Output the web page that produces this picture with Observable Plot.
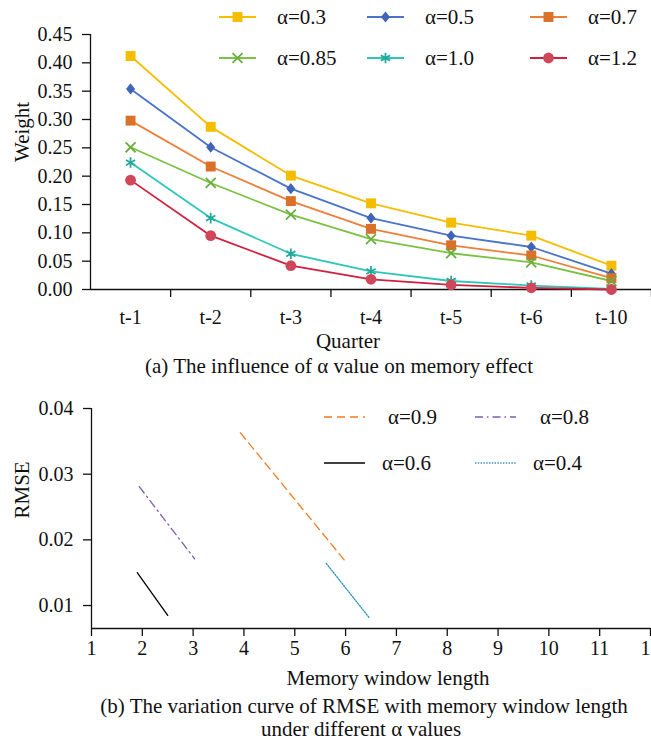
<!DOCTYPE html>
<html>
<head>
<meta charset="utf-8">
<script src="https://cdn.jsdelivr.net/npm/d3@7"></script>
<script src="https://cdn.jsdelivr.net/npm/@observablehq/plot@0.6"></script>
<style>
  html, body { margin: 0; padding: 0; background: #fff; overflow: hidden; }
  #wrap { position: relative; width: 651px; height: 743px; font-family: "Liberation Serif", "Times New Roman", serif; color: #111; }
  .cap { position: absolute; font-size: 21px; white-space: nowrap; transform: translate(-50%, -50%); }
  .leg { position: absolute; font-size: 21px; white-space: nowrap; display: flex; align-items: center; }
</style>
</head>
<body>
<div id="wrap"></div>
<script>
// ---------- Data: chart (a) ----------
const quarters = ["t-1", "t-2", "t-3", "t-4", "t-5", "t-6", "t-10"];
const alphaA = ["α=0.3", "α=0.5", "α=0.7", "α=0.85", "α=1.0", "α=1.2"];
const w03  = [0.412, 0.287, 0.201, 0.152, 0.118, 0.095, 0.042];
const w05  = [0.354, 0.251, 0.178, 0.126, 0.095, 0.075, 0.028];
const w07  = [0.298, 0.217, 0.156, 0.107, 0.078, 0.060, 0.020];
const w085 = [0.251, 0.188, 0.132, 0.089, 0.064, 0.048, 0.015];
const w10  = [0.224, 0.126, 0.063, 0.032, 0.015, 0.007, 0.001];
const w12  = [0.193, 0.095, 0.042, 0.018, 0.008, 0.003, 0.000];
const weightTicks = [0, 0.05, 0.10, 0.15, 0.20, 0.25, 0.30, 0.35, 0.40, 0.45];

// ---------- Data: chart (b) ----------
const alphaB = ["α=0.9", "α=0.8", "α=0.6", "α=0.4"];
const winX09 = [3.93, 6.03];  const rmse09 = [0.0363, 0.0164];
const winX08 = [1.94, 3.03];  const rmse08 = [0.0281, 0.0171];
const winX06 = [1.90, 2.50];  const rmse06 = [0.0150, 0.0085];
const winX04 = [5.62, 6.47];  const rmse04 = [0.0164, 0.0081];
const rmseTicks = [0.01, 0.02, 0.03, 0.04];
const windowTicks = [1, 2, 3, 4, 5, 6, 7, 8, 9, 10, 11, 12];

// ---------- Styles ----------
const FONT = '"Liberation Serif", "Times New Roman", serif';
// custom, less elongated diamond
const diamondSym = {
  draw(ctx, size) {
    const k = Math.sqrt(size / 1.64), w = 0.82 * k;
    ctx.moveTo(0, -k); ctx.lineTo(w, 0); ctx.lineTo(0, k); ctx.lineTo(-w, 0); ctx.closePath();
  }
};
const stylesA = [
  {line: "#F5BD00", fill: "#F5BD00", symbol: d3.symbolSquare,   r: 5.6, stroke: false},
  {line: "#4A74C9", fill: "#3F64B8", symbol: diamondSym,        r: 4.0, stroke: false},
  {line: "#EE7F3A", fill: "#D9712B", symbol: d3.symbolSquare,   r: 5.6, stroke: false},
  {line: "#7CC143", fill: "#6AAE3E", symbol: d3.symbolTimes,    r: 4.6, stroke: true},
  {line: "#2EC7B7", fill: "#22A99C", symbol: d3.symbolAsterisk, r: 5.0, stroke: true},
  {line: "#D11F3F", fill: "#D0475A", symbol: d3.symbolCircle,   r: 5.4, stroke: false}
];
const seriesA = [w03, w05, w07, w085, w10, w12];
const stylesB = [
  {color: "#F47B20", dash: "8,5", width: 1.3},
  {color: "#7B5EAF", dash: "8,4,1.5,4", width: 1.3},
  {color: "#000000", dash: null, width: 1.3},
  {color: "#2E94B9", dash: "1.4,1.4", width: 1.3}
];
const seriesB = [[winX09, rmse09], [winX08, rmse08], [winX06, rmse06], [winX04, rmse04]];

const wrap = document.getElementById("wrap");

// ---------- Chart (a) ----------
const rowsA = [];
seriesA.forEach((vals, s) => vals.forEach((v, i) => rowsA.push({s, i, q: quarters[i], v})));
const idx = quarters.map((_, i) => i);
const boundaries = idx.map(i => i + 0.5);

const marksA = [];
seriesA.forEach((vals, s) => {
  const st = stylesA[s];
  const data = rowsA.filter(d => d.s === s);
  marksA.push(Plot.line(data, {x: "i", y: "v", stroke: st.line, strokeWidth: 1.8}));
});
seriesA.forEach((vals, s) => {
  const st = stylesA[s];
  const data = rowsA.filter(d => d.s === s);
  marksA.push(Plot.dot(data, st.stroke
    ? {x: "i", y: "v", symbol: st.symbol, r: st.r, stroke: st.fill, strokeWidth: 1.8, fill: "none"}
    : {x: "i", y: "v", symbol: st.symbol, r: st.r, fill: st.fill, stroke: "none"}));
});

const chartA = Plot.plot({
  width: 651,
  height: 348,
  marginTop: 34,
  marginBottom: 59,
  marginLeft: 90,
  marginRight: 0,
  style: {fontFamily: FONT, fontSize: "20px", color: "#111", background: "transparent", overflow: "visible"},
  x: {type: "linear", domain: [-0.5, quarters.length - 0.5]},
  y: {domain: [0, 0.45]},
  marks: [
    Plot.axisY(weightTicks, {tickSize: 8, tickPadding: 10, tickFormat: d3.format(".2f"), label: null, strokeWidth: 1.3, fontSize: 20}),
    Plot.axisX(boundaries, {tickSize: 8, tickFormat: () => "", label: null, strokeWidth: 1.3}),
    Plot.axisX(idx, {tickSize: 0, tickPadding: 20, tickFormat: i => quarters[i], label: null, fontSize: 20}),
    Plot.ruleY([0], {strokeWidth: 1.3}),
    Plot.ruleX([-0.5], {strokeWidth: 1.3}),
    ...marksA,
    Plot.text(["Quarter"], {frameAnchor: "bottom", dy: 58, fontSize: 21, dx: -23}),
    Plot.text(["Weight"], {frameAnchor: "left", dx: -68, rotate: -90, fontSize: 21})
  ]
});
chartA.style.position = "absolute";
chartA.style.left = "0px";
chartA.style.top = "0px";
wrap.appendChild(chartA);

// legend (a)
function legendItem(parent, x, y, label, drawSwatch, textGap) {
  const div = document.createElement("div");
  div.className = "leg";
  div.style.left = x + "px";
  div.style.top = (y - 12) + "px";
  div.style.height = "24px";
  const svg = d3.create("svg").attr("width", 40).attr("height", 24).style("overflow", "visible");
  drawSwatch(svg);
  div.appendChild(svg.node());
  const span = document.createElement("span");
  span.textContent = label;
  span.style.marginLeft = textGap + "px";
  div.appendChild(span);
  parent.appendChild(div);
}
const legColsA = [219, 367, 530];
const legRowsA = [17, 58];
alphaA.forEach((lab, k) => {
  const st = stylesA[k];
  const col = k % 3, row = Math.floor(k / 3);
  legendItem(wrap, legColsA[col], legRowsA[row], lab, svg => {
    svg.append("line").attr("x1", 0).attr("x2", 37).attr("y1", 12).attr("y2", 12)
      .attr("stroke", st.line).attr("stroke-width", 1.8);
    const p = d3.symbol(st.symbol, Math.PI * st.r * st.r)();
    const g = svg.append("path").attr("d", p).attr("transform", "translate(18.5,12)");
    if (st.stroke) g.attr("fill", "none").attr("stroke", st.fill).attr("stroke-width", 1.8);
    else g.attr("fill", st.fill);
  }, 18);
});

// caption (a)
const capA = document.createElement("div");
capA.className = "cap";
capA.style.left = "339px"; capA.style.top = "366px";
capA.textContent = "(a) The influence of α value on memory effect";
wrap.appendChild(capA);

// ---------- Chart (b) ----------
const rowsB = [];
seriesB.forEach(([xs, ys], s) => xs.forEach((x, i) => rowsB.push({s, x, y: ys[i]})));

const chartB = Plot.plot({
  width: 651,
  height: 318,
  marginTop: 28,
  marginBottom: 70,
  marginLeft: 91,
  marginRight: 1,
  style: {fontFamily: FONT, fontSize: "20px", color: "#111", background: "transparent", overflow: "visible"},
  x: {domain: [1, 12]},
  y: {domain: [0.0065, 0.04]},
  marks: [
    Plot.axisY(rmseTicks, {tickSize: 8, tickPadding: 10, tickFormat: d3.format(".2f"), label: null, strokeWidth: 1.3, fontSize: 20}),
    Plot.axisX(windowTicks, {tickSize: 8, tickPadding: 4, label: null, strokeWidth: 1.3, fontSize: 20}),
    Plot.ruleY([0.0065], {strokeWidth: 1.3}),
    Plot.ruleX([1], {strokeWidth: 1.3}),
    ...seriesB.map((_, s) => Plot.line(rowsB.filter(d => d.s === s), {
      x: "x", y: "y", stroke: stylesB[s].color, strokeWidth: stylesB[s].width,
      strokeDasharray: stylesB[s].dash || undefined
    })),
    Plot.text(["Memory window length"], {frameAnchor: "bottom", dy: 56, dx: 17, fontSize: 21}),
    Plot.text(["RMSE"], {frameAnchor: "left", dx: -69, rotate: -90, fontSize: 21})
  ]
});
chartB.style.position = "absolute";
chartB.style.left = "0px";
chartB.style.top = "380px";
wrap.appendChild(chartB);

// legend (b)
const legPosB = [
  {x: 324, y: 417, gap: 24},
  {x: 475, y: 417, gap: 25},
  {x: 324, y: 463, gap: 18},
  {x: 475, y: 463, gap: 18}
];
alphaB.forEach((lab, k) => {
  const st = stylesB[k];
  const p = legPosB[k];
  legendItem(wrap, p.x, p.y, lab, svg => {
    const l = svg.append("line").attr("x1", 0).attr("x2", 41).attr("y1", 12).attr("y2", 12)
      .attr("stroke", st.color).attr("stroke-width", st.width);
    if (st.dash) l.attr("stroke-dasharray", st.dash);
  }, p.gap);
});

// caption (b)
const capB1 = document.createElement("div");
capB1.className = "cap";
capB1.style.left = "364px"; capB1.style.top = "706px";
capB1.textContent = "(b) The variation curve of RMSE with memory window length";
wrap.appendChild(capB1);
const capB2 = document.createElement("div");
capB2.className = "cap";
capB2.style.left = "361px"; capB2.style.top = "729px";
capB2.textContent = "under different α values";
wrap.appendChild(capB2);
</script>
</body>
</html>
